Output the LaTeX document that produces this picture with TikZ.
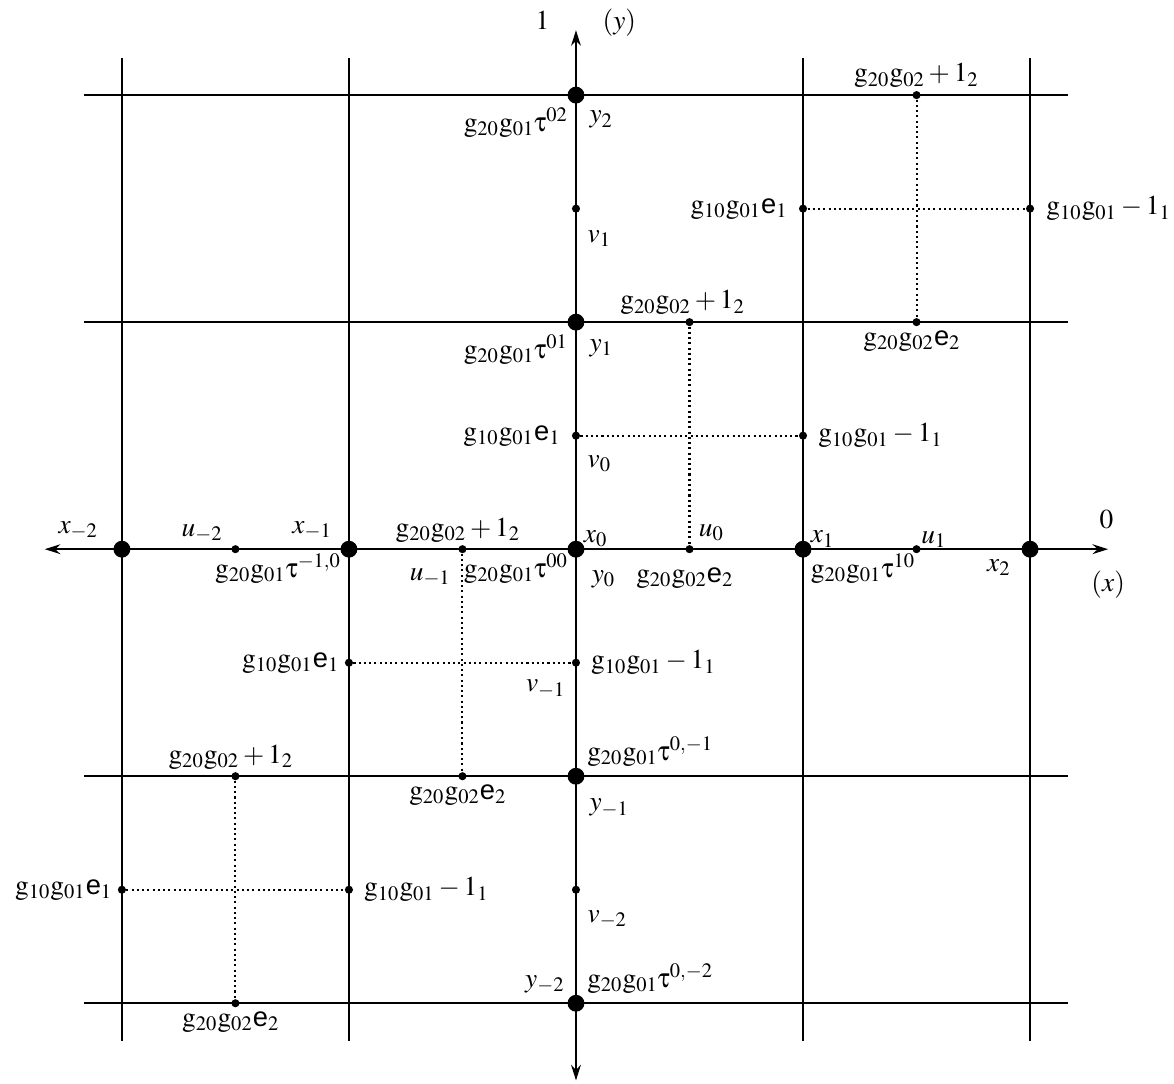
\documentclass[tikz,border=0pt]{standalone}
\usepackage{mathptmx}
\usepackage[Symbol]{upgreek}
\usepackage[no-math]{fontspec}
\usepackage{tikz}
\usetikzlibrary{arrows.meta,positioning}
\newfontfamily\esans{Liberation Sans}
\newcommand{\gpair}[2]{\mathrm{g}_{#1}\mathrm{g}_{#2}}
\newcommand{\ee}[1]{\mbox{\esans e}_{#1}}
\newcommand{\gtau}[1]{\gpair{20}{01}\uptau^{#1}}
\newcommand{\gplus}{\gpair{20}{02}+1_2}
\newcommand{\gminus}{\gpair{10}{01}-1_1}
\newcommand{\geone}{\gpair{10}{01}\ee{1}}
\newcommand{\getwo}{\gpair{20}{02}\ee{2}}

\begin{document}
\begin{tikzpicture}[x=3.5cm, y=3.5cm, font=\fontsize{12}{14}\selectfont,
    bigdot/.style={circle, fill, inner sep=0pt, minimum size=2.6mm},
    smalldot/.style={circle, fill, inner sep=0pt, minimum size=1.25mm},
    gridline/.style={line width=1pt},
    axisline/.style={line width=1pt, {Stealth[length=2.4mm, width=1.5mm]}-{Stealth[length=2.4mm, width=1.5mm]}},
    dotline/.style={line width=0.9pt, dash pattern=on 0.9pt off 1.4pt},
    lbl/.style={inner sep=1.5pt},
    node distance=0.5pt]
        \useasboundingbox (-2.537,-2.352) rectangle (2.634,2.419);
        \foreach \k in {-2,-1,1,2} {
          \draw[gridline] (-2.165,\k) -- (2.165,\k);
          \draw[gridline] (\k,-2.165) -- (\k,2.165);
        }
        \coordinate (xl) at (-2.34,0);
        \coordinate (xr) at (2.344,0);
        \coordinate (yt) at (0,2.286);
        \coordinate (yb) at (0,-2.34);
        \draw[axisline] (xl) -- (xr);
        \draw[axisline] (yb) -- (yt);
        \node[lbl, above left=7pt and -4pt of xr] (lzero) {$0$};
        \node[lbl, below=8pt of xr] (lxaxis) {$(x)$};
        \node[lbl, left=10pt of yt, yshift=4.5pt] (lone) {$1$};
        \node[lbl, right=10pt of yt, yshift=3.5pt] (lyaxis) {$(y)$};

        \node[bigdot] (xm2) at (-2,0) {};
        \node[bigdot] (xm1) at (-1,0) {};
        \node[bigdot] (x0) at (0,0) {};
        \node[bigdot] (x1) at (1,0) {};
        \node[bigdot] (x2) at (2,0) {};
        \node[bigdot] (y2) at (0,2) {};
        \node[bigdot] (y1) at (0,1) {};
        \node[bigdot] (ym1) at (0,-1) {};
        \node[bigdot] (ym2) at (0,-2) {};

        \node[smalldot] (um2) at (-1.5,0) {};
        \node[smalldot] (um1) at (-0.5,0) {};
        \node[smalldot] (u0) at (0.5,0) {};
        \node[smalldot] (u1) at (1.5,0) {};
        \node[smalldot] (v1) at (0,1.5) {};
        \node[smalldot] (v0) at (0,0.5) {};
        \node[smalldot] (vm1) at (0,-0.5) {};
        \node[smalldot] (vm2) at (0,-1.5) {};
        \node[smalldot] (pa) at (0.5,1) {};
        \node[smalldot] (qa) at (1,0.5) {};
        \node[smalldot] (pb) at (-0.5,-1) {};
        \node[smalldot] (qb) at (-1,-0.5) {};
        \node[smalldot] (tra) at (1.5,2) {};
        \node[smalldot] (trb) at (1.5,1) {};
        \node[smalldot] (trc) at (1,1.5) {};
        \node[smalldot] (trd) at (2,1.5) {};
        \node[smalldot] (bla) at (-1.5,-1) {};
        \node[smalldot] (blb) at (-1.5,-2) {};
        \node[smalldot] (blc) at (-2,-1.5) {};
        \node[smalldot] (bld) at (-1,-1.5) {};

        \draw[dotline] (pa) -- (u0);
        \draw[dotline] (v0) -- (qa);
        \draw[dotline] (um1) -- (pb);
        \draw[dotline] (qb) -- (vm1);
        \draw[dotline] (tra) -- (trb);
        \draw[dotline] (trc) -- (trd);
        \draw[dotline] (bla) -- (blb);
        \draw[dotline] (blc) -- (bld);

        \node[lbl, above left=0pt and 6pt of xm2] (lxm2) {$x_{-2}$};
        \node[lbl, above left=0pt and 2.5pt of um2] (lum2) {$u_{-2}$};
        \node[lbl, above left=0pt and 3pt of xm1] (lxm1) {$x_{-1}$};
        \node[lbl, below left=-2.5pt and -1pt of xm1] (ltm10) {$\gtau{-1,0}$};
        \node[lbl, above=-0.5pt of um1, xshift=-2pt] (lgum1) {$\gplus$};
        \node[lbl, below left=5.5pt and 2pt of um1] (lum1) {$u_{-1}$};
        \node[lbl, below left=-2.5pt and -1pt of x0] (lt00) {$\gtau{00}$};
        \node[lbl, above right=-3.5pt and -1pt of x0] (lx0) {$x_0$};
        \node[lbl, below right=5pt and 2.5pt of x0] (ly0) {$y_0$};
        \node[lbl, below=4.5pt of u0, xshift=-2pt] (lgu0) {$\getwo$};
        \node[lbl, above right=0.5pt and 1pt of u0] (lu0) {$u_0$};
        \node[lbl, above right=-3.5pt and -1pt of x1] (lx1) {$x_1$};
        \node[lbl, below right=-2.5pt and -1pt of x1] (lt10) {$\gtau{10}$};
        \node[lbl, above right=-2.5pt and -1pt of u1] (lu1) {$u_1$};
        \node[lbl, below left=0pt and 4pt of x2] (lx2) {$x_2$};

        \node[lbl, below left=1pt and -1pt of y2] (lt02) {$\gtau{02}$};
        \node[lbl, below right=2.5pt and 1.5pt of y2] (ly2) {$y_2$};
        \node[lbl, below right=6.5pt and 2pt of v1] (lv1) {$v_1$};
        \node[lbl, above=-0.5pt of tra] (ltra) {$\gplus$};
        \node[lbl, left=3pt of trc] (ltrc) {$\geone$};
        \node[lbl, right=3.5pt of trd] (ltrd) {$\gminus$};
        \node[lbl, below left=1pt and -1pt of y1] (lt01) {$\gtau{01}$};
        \node[lbl, below right=3pt and 1.5pt of y1] (ly1) {$y_1$};
        \node[lbl, above=-0.5pt of pa, xshift=-3pt] (lpa) {$\gplus$};
        \node[lbl, below=0pt of trb, xshift=-2pt] (ltrb) {$\getwo$};
        \node[lbl, left=3pt of v0] (lgv0) {$\geone$};
        \node[lbl, below right=5.5pt and 2pt of v0] (lv0) {$v_0$};
        \node[lbl, right=3pt of qa] (lqa) {$\gminus$};

        \node[lbl, right=3pt of vm1] (lgvm1) {$\gminus$};
        \node[lbl, below left=4.5pt and 1.5pt of vm1] (lvm1) {$v_{-1}$};
        \node[lbl, left=of qb] (lqb) {$\geone$};
        \node[lbl, above right=0pt and 0.5pt of ym1] (ltm01) {$\gtau{0,-1}$};
        \node[lbl, below=0pt of pb, xshift=-2pt] (lpb) {$\getwo$};
        \node[lbl, below right=5.5pt and 1.5pt of ym1] (lym1) {$y_{-1}$};
        \node[lbl, above=-0.5pt of bla, xshift=-2pt] (lbla) {$\gplus$};
        \node[lbl, left=of blc] (lblc) {$\geone$};
        \node[lbl, right=3pt of bld] (lbld) {$\gminus$};
        \node[lbl, below right=6pt and 2pt of vm2] (lvm2) {$v_{-2}$};
        \node[lbl, above left=0pt and 0.5pt of ym2] (lym2) {$y_{-2}$};
        \node[lbl, above right=0pt and 0.5pt of ym2] (ltm02) {$\gtau{0,-2}$};
        \node[lbl, below=0pt of blb, xshift=-2pt] (lblb) {$\getwo$};
      \end{tikzpicture}
\end{document}
